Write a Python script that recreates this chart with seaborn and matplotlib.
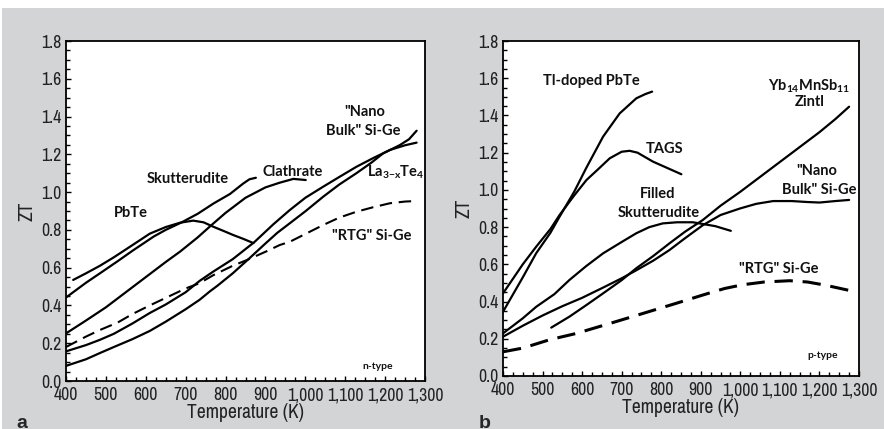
import matplotlib
matplotlib.use("Agg")
import matplotlib.pyplot as plt
from matplotlib import font_manager
from matplotlib.ticker import MultipleLocator, FuncFormatter
from matplotlib.patches import Rectangle
import seaborn as sns
import pandas as pd

# ---------------- data: panel a (n-type) ----------------
pbte_n_T = [418, 450, 485, 520, 567, 610, 650, 686, 719, 745, 769, 800, 819, 845, 870]
pbte_n_ZT = [0.535, 0.57, 0.61, 0.655, 0.72, 0.78, 0.815, 0.838, 0.849, 0.84, 0.817, 0.79, 0.773, 0.752, 0.73]

skut_n_T = [400, 450, 485, 530, 567, 620, 650, 690, 730, 770, 811, 844, 860, 876]
skut_n_ZT = [0.442, 0.52, 0.57, 0.635, 0.69, 0.765, 0.80, 0.84, 0.885, 0.94, 0.99, 1.045, 1.068, 1.076]

clath_T = [400, 450, 500, 550, 600, 650, 686, 730, 765, 800, 850, 900, 936, 970, 1001]
clath_ZT = [0.252, 0.32, 0.39, 0.47, 0.55, 0.63, 0.685, 0.76, 0.826, 0.89, 0.97, 1.025, 1.05, 1.07, 1.064]

la_T = [400, 450, 485, 520, 567, 610, 650, 700, 735, 769, 818, 872, 920, 961, 1000, 1045, 1085, 1128, 1170, 1212, 1250, 1279]
la_ZT = [0.157, 0.19, 0.218, 0.25, 0.305, 0.36, 0.405, 0.47, 0.53, 0.579, 0.645, 0.735, 0.83, 0.905, 0.97, 1.029, 1.08, 1.134, 1.18, 1.223, 1.248, 1.262]

nano_n_T = [400, 450, 485, 520, 567, 610, 650, 700, 735, 761, 780, 818, 860, 901, 930, 961, 1001, 1045, 1085, 1128, 1165, 1195, 1237, 1260, 1279]
nano_n_ZT = [0.08, 0.115, 0.148, 0.18, 0.222, 0.265, 0.314, 0.38, 0.43, 0.475, 0.505, 0.57, 0.65, 0.73, 0.785, 0.835, 0.9, 0.976, 1.04, 1.1, 1.155, 1.205, 1.249, 1.28, 1.325]

rtg_n_T = [400, 450, 485, 530, 567, 610, 650, 700, 734, 769, 818, 853, 901, 936, 961, 1011, 1045, 1085, 1128, 1170, 1212, 1250, 1279]
rtg_n_ZT = [0.18, 0.235, 0.27, 0.31, 0.355, 0.40, 0.44, 0.49, 0.517, 0.56, 0.61, 0.64, 0.685, 0.72, 0.737, 0.79, 0.826, 0.865, 0.896, 0.92, 0.941, 0.95, 0.953]

# ---------------- data: panel b (p-type) ----------------
tl_T = [400, 450, 484, 520, 543, 580, 611, 653, 695, 737, 760, 777]
tl_ZT = [0.345, 0.53, 0.66, 0.77, 0.856, 0.99, 1.12, 1.286, 1.411, 1.492, 1.515, 1.528]

tags_T = [400, 450, 484, 520, 543, 580, 611, 640, 670, 700, 720, 740, 779, 815, 851]
tags_ZT = [0.444, 0.60, 0.695, 0.79, 0.865, 0.97, 1.053, 1.11, 1.17, 1.205, 1.21, 1.2, 1.152, 1.118, 1.084]

fskut_T = [400, 450, 484, 530, 568, 610, 653, 700, 737, 770, 804, 840, 880, 910, 937, 976]
fskut_ZT = [0.229, 0.31, 0.372, 0.44, 0.516, 0.59, 0.659, 0.72, 0.767, 0.80, 0.82, 0.826, 0.826, 0.815, 0.805, 0.78]

nano_p_T = [400, 450, 500, 550, 600, 653, 700, 737, 780, 821, 860, 905, 950, 999, 1040, 1083, 1130, 1168, 1200, 1240, 1275]
nano_p_ZT = [0.211, 0.27, 0.325, 0.375, 0.42, 0.475, 0.525, 0.568, 0.62, 0.677, 0.74, 0.81, 0.865, 0.90, 0.925, 0.94, 0.94, 0.935, 0.932, 0.94, 0.946]

zintl_T = [522, 568, 610, 653, 700, 737, 780, 821, 860, 905, 950, 1000, 1050, 1100, 1150, 1200, 1240, 1275]
zintl_ZT = [0.26, 0.319, 0.38, 0.444, 0.515, 0.579, 0.645, 0.713, 0.775, 0.838, 0.915, 0.99, 1.07, 1.15, 1.23, 1.31, 1.38, 1.447]

rtg_p_T = [400, 450, 518, 584, 668, 752, 837, 905, 960, 1005, 1060, 1125, 1170, 1215, 1275]
rtg_p_ZT = [0.13, 0.15, 0.195, 0.228, 0.281, 0.335, 0.39, 0.435, 0.47, 0.49, 0.505, 0.512, 0.505, 0.488, 0.46]

x_ticks = [400, 500, 600, 700, 800, 900, 1000, 1100, 1200, 1300]
y_ticks = [0.0, 0.2, 0.4, 0.6, 0.8, 1.0, 1.2, 1.4, 1.6, 1.8]

# ---------------- style ----------------
sns.set_theme(style="ticks")
tt = font_manager.fontManager.ttflist
names = {f.name for f in tt}
prefs = ["Liberation Sans Narrow", "Arial Narrow", "Archivo Narrow", "Roboto Condensed",
         "Asap Condensed", "Barlow Semi Condensed", "Barlow Condensed"]
axis_font = next((p for p in prefs if p in names), None)
if axis_font is None:
    narrow = [f.name for f in tt if "Narrow" in f.name or "Condensed" in f.name]
    axis_font = narrow[0] if narrow else "Liberation Sans"
tick_size = 12.8
lab_size = 14
ann_font = "Lato" if "Lato" in names else "DejaVu Sans"
plt.rcParams["font.family"] = [axis_font, "DejaVu Sans"]

BG = "#d3d4d6"
fig = plt.figure(figsize=(8.84, 4.29), dpi=100, facecolor=BG)
fig.patches.append(Rectangle((0, 1 - 8 / 429), 1, 8 / 429, transform=fig.transFigure,
                             facecolor="white", edgecolor="none", zorder=0))
fig.patches.append(Rectangle((0, 0), 2 / 884, 1, transform=fig.transFigure,
                             facecolor="white", edgecolor="none", zorder=0))

axA = fig.add_axes([66 / 884, 1 - 381 / 429, 359 / 884, 340 / 429])
axB = fig.add_axes([503 / 884, 1 - 376 / 429, 356 / 884, 335 / 429])


def draw(ax, T, ZT, dashed=False, lw=1.6):
    df = pd.DataFrame({"T": T, "ZT": ZT})
    if dashed:
        sns.lineplot(data=df, x="T", y="ZT", ax=ax, color="black", lw=lw, sort=False,
                     estimator=None, dashes=False, linestyle=(0, (6, 3.2)))
    else:
        sns.lineplot(data=df, x="T", y="ZT", ax=ax, color="black", lw=lw, sort=False,
                     estimator=None)


draw(axA, pbte_n_T, pbte_n_ZT)
draw(axA, skut_n_T, skut_n_ZT)
draw(axA, clath_T, clath_ZT)
draw(axA, la_T, la_ZT)
draw(axA, nano_n_T, nano_n_ZT)
draw(axA, rtg_n_T, rtg_n_ZT, dashed=True, lw=1.5)

draw(axB, tl_T, tl_ZT)
draw(axB, tags_T, tags_ZT)
draw(axB, fskut_T, fskut_ZT)
draw(axB, nano_p_T, nano_p_ZT)
draw(axB, zintl_T, zintl_ZT)
draw(axB, rtg_p_T, rtg_p_ZT, dashed=True, lw=2.2)

fmt = FuncFormatter(lambda v, p: f"{int(round(v)):,}")
for ax in (axA, axB):
    ax.set_facecolor("white")
    ax.set_xlim(400, 1300)
    ax.set_ylim(0, 1.8)
    ax.set_xticks(x_ticks)
    ax.set_yticks(y_ticks)
    ax.xaxis.set_major_formatter(fmt)
    ax.set_yticklabels([f"{v:.1f}" for v in y_ticks])
    ax.xaxis.set_minor_locator(MultipleLocator(25))
    ax.yaxis.set_minor_locator(MultipleLocator(0.05))
    ax.tick_params(which="both", direction="in", top=False, right=False,
                   width=1.0, colors="black", labelsize=tick_size)
    ax.tick_params(axis="x", pad=4.5)
    ax.tick_params(axis="y", pad=3.5)
    ax.tick_params(which="major", length=3.5)
    ax.tick_params(which="minor", length=3)
    for s in ax.spines.values():
        s.set_visible(True)
        s.set_linewidth(1.3)
        s.set_color("black")
    ax.set_xlabel("Temperature (K)", fontsize=lab_size, labelpad=0, color="#222222")
    ax.set_ylabel("ZT", fontsize=lab_size, labelpad=3, color="#222222")
    for lab in ax.get_xticklabels() + ax.get_yticklabels():
        lab.set_color("#222222")

akw = dict(fontfamily=ann_font, fontweight="bold", fontsize=10.5, ha="center", va="center", color="#111111")
axA.text(562, 0.888, "PbTe", **akw)
axA.text(704, 1.069, "Skutterudite", **akw)
axA.text(968, 1.108, "Clathrate", **akw)
axA.text(1150, 1.422, "\"Nano", **akw)
axA.text(1145, 1.323, "Bulk\" Si-Ge", **akw)
axA.text(1227, 1.108, r"La$_{\mathregular{3{-}x}}$Te$_{\mathregular{4}}$", **akw)
axA.text(1166, 0.768, "\"RTG\" Si-Ge", **akw)
axA.text(1181, 0.076, "n-type", **{**akw, "fontsize": 7.5})

axB.text(624, 1.585, "Tl-doped PbTe", **akw)
axB.text(809, 1.219, "TAGS", **akw)
axB.text(790, 0.977, "Filled", **akw)
axB.text(794, 0.878, "Skutterudite", **akw)
axB.text(1174, 1.558, r"Yb$_{\mathregular{14}}$MnSb$_{\mathregular{11}}$", **akw)
axB.text(1175, 1.474, "Zintl", **akw)
axB.text(1192, 1.101, "\"Nano", **akw)
axB.text(1200, 0.998, "Bulk\" Si-Ge", **akw)
axB.text(1096, 0.577, "\"RTG\" Si-Ge", **akw)
axB.text(1207, 0.111, "p-type", **{**akw, "fontsize": 7.5})

fig.text(22 / 884, 1 - 423 / 429, "a", fontsize=14, fontweight="bold", ha="center", va="center",
         fontfamily="Liberation Sans")
fig.text(485 / 884, 1 - 423 / 429, "b", fontsize=14, fontweight="bold", ha="center", va="center",
         fontfamily="Liberation Sans")

fig.savefig("out.png", dpi=100, facecolor=BG)
